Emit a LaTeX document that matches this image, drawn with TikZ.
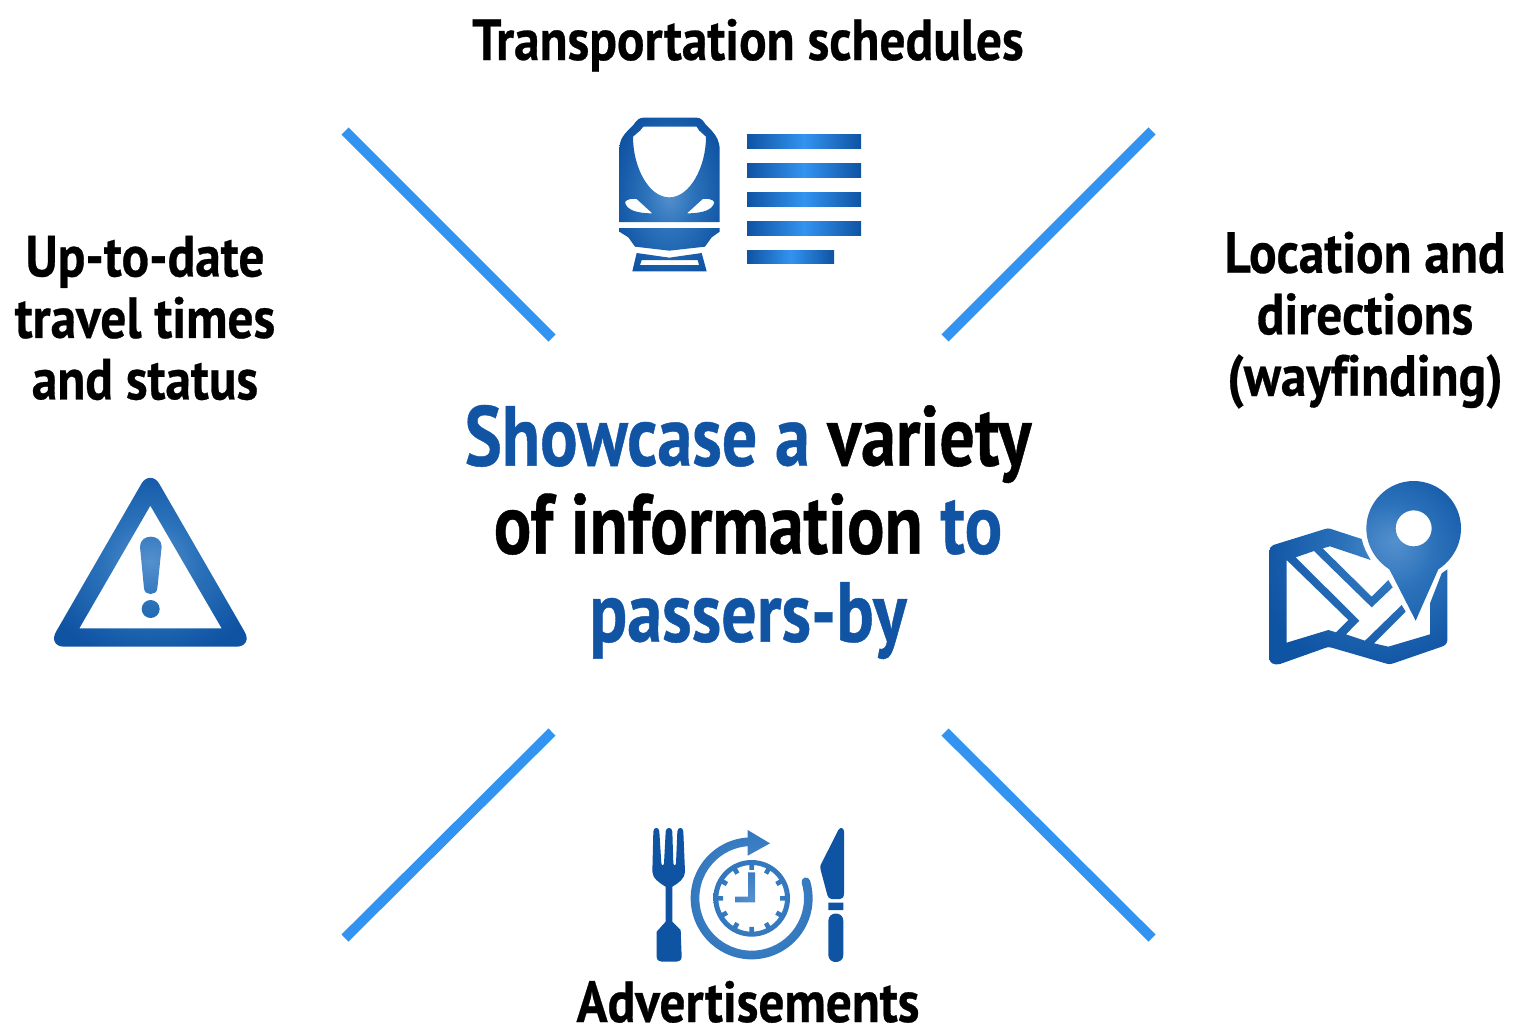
\documentclass[tikz,border=0pt]{standalone}
\usepackage{fontspec}
\setmainfont{PT Sans}
\newfontfamily\capfont[FakeStretch=0.885,FakeBold=0.5,Ligatures=NoCommon]{PT Sans}
\newfontfamily\mainfont[FakeStretch=0.825,FakeBold=0.5]{PT Sans}
\definecolor{icondark}{HTML}{0F53A3}
\definecolor{iconmid}{HTML}{2B72BA}
\definecolor{iconlight}{HTML}{5590CE}
\definecolor{linecol}{HTML}{3393F0}
\definecolor{textblue}{HTML}{1254A4}
\pgfdeclareradialshading{iconglow}{\pgfpointorigin}{color(0bp)=(iconlight); color(12bp)=(iconmid); color(29bp)=(icondark); color(50bp)=(icondark)}
\pgfdeclareradialshading{mapglow}{\pgfpoint{8bp}{9bp}}{color(0bp)=(iconlight); color(12bp)=(iconmid); color(31bp)=(icondark); color(50bp)=(icondark)}
\pgfdeclareradialshading{clockglow}{\pgfpointorigin}{color(0bp)=(iconlight); color(30bp)=(iconmid); color(50bp)=(iconmid)}
\tikzset{
  rayline/.style={draw=linecol,line width=10pt},
  iconshade/.style={shading=iconglow,even odd rule},
  barshade/.style={left color=icondark,right color=icondark,middle color=linecol},
  captext/.style={font=\capfont\fontsize{58}{61.5}\selectfont\bfseries,align=center,text=black,inner sep=0pt},
  maintext/.style={font=\mainfont\fontsize{85}{88}\selectfont\bfseries,align=center,text=black,inner sep=0pt},
  px/.style={shift={(#1)},scale=1/3}
}
\begin{document}
\begin{tikzpicture}[x=1pt,y=-1pt]
\useasboundingbox (0,0) rectangle (1514,1029);
% rays
\coordinate (a1) at (345,131); \coordinate (a2) at (552,338);
\coordinate (b1) at (1152,131); \coordinate (b2) at (945,338);
\coordinate (c1) at (552,732); \coordinate (c2) at (345,938);
\coordinate (d1) at (945,732); \coordinate (d2) at (1152,938);
\draw[rayline] (a1) -- (a2);
\draw[rayline] (b1) -- (b2);
\draw[rayline] (c1) -- (c2);
\draw[rayline] (d1) -- (d2);
% texts
\node[captext,anchor=base] (top) at (748,60) {Transportation schedules};
\node[captext,anchor=base] (bot) at (748,1022) {Advertisements};
\node[captext] (left) at (145,318) {Up-to-date\\travel times\\and status};
\node[captext] (right) at (1365,320) {Location and\\directions\\(wayfinding)};
\node[maintext] (main) at (748,532) {\textcolor{textblue}{Showcase a} variety\\of information \textcolor{textblue}{to}\\\textcolor{textblue}{passers-by}};
% train
\begin{scope}[px={600,100}]
\shade[iconshade]
 (58,366) -- (58,150) .. controls (58,120) and (70,105) .. (85,90) -- (100,75) .. controls (110,60) and (118,53) .. (130,53) -- (290,53) .. controls (302,53) and (310,62) .. (318,75) -- (335,92) .. controls (350,108) and (359,125) .. (359,150) -- (359,366) -- cycle
 (99,110) -- (120,92) -- (130,80) -- (290,80) -- (298,92) -- (318,110) .. controls (318,200) and (270,292) .. (208,292) .. controls (145,292) and (99,200) .. (99,110) -- cycle
 (75,307) .. controls (78,298) and (95,295) .. (110,297) -- (157,340) .. controls (110,340) and (80,330) .. (75,307) -- cycle
 (343,307) .. controls (340,298) and (323,295) .. (308,297) -- (261,340) .. controls (308,340) and (338,330) .. (343,307) -- cycle
 (58,384) -- (359,384) -- (359,395) -- (335,412) -- (315,440) -- (208,452) -- (105,440) -- (85,412) -- (58,395) -- cycle
 (110,459) -- (208,473) -- (305,459) -- (320,514) -- (97,514) -- cycle
 (125,480) -- (293,480) -- (297,495) -- (120,495) -- cycle;
\shade[barshade] (441,102) rectangle (783,144);
\shade[barshade] (441,189) rectangle (783,231);
\shade[barshade] (441,276) rectangle (783,318);
\shade[barshade] (441,363) rectangle (783,405);
\shade[barshade] (441,450) rectangle (702,489);
\end{scope}
% warning triangle
\begin{scope}[px={40,465}]
\shade[iconshade]
 (305,55) .. controls (318,33) and (344,33) .. (357,55) -- (612,497) .. controls (630,525) and (615,545) .. (590,545) -- (72,545) .. controls (47,545) and (32,525) .. (50,497) -- cycle
 (331,122) -- (545,490) -- (118,490) -- cycle
 (300,245) .. controls (300,205) and (365,205) .. (365,245) -- (352,370) .. controls (350,393) and (314,393) .. (312,370) -- cycle
 (332,432) circle[radius=27];
\end{scope}
% map with pin
\begin{scope}[px={1250,470}]
\shade[shading=mapglow,even odd rule]
 (58,245) .. controls (58,235) and (62,228) .. (70,225) -- (225,177) .. controls (231,175) and (236,175) .. (240,176) -- (335,207) .. controls (340,230) and (350,250) .. (362,270) -- (240,229) -- (218,235) -- (365,380) -- (415,330) -- (428,352) -- (365,412) -- (192,243) -- (137,262) -- (328,452) -- (288,493) -- (345,512) -- (455,405) -- (467,425) -- (372,520) -- (415,530) -- (540,493) -- (540,400) -- (575,310) -- (592,298) -- (592,510) .. controls (592,520) and (585,527) .. (575,530) -- (430,580) .. controls (422,583) and (416,583) .. (410,581) -- (245,533) .. controls (238,531) and (234,531) .. (228,533) -- (90,582) .. controls (72,587) and (58,578) .. (58,565) -- cycle
 (110,270) -- (295,450) -- (258,487) -- (235,480) -- (110,518) -- cycle
 (497,452) -- (418,298) .. controls (375,270) and (349,225) .. (349,175) .. controls (349,97) and (413,33) .. (491,33) .. controls (569,33) and (633,97) .. (633,175) .. controls (633,225) and (607,270) .. (565,298) -- cycle
 (491,175) circle[radius=54];
\end{scope}
% cutlery and clock
\begin{scope}[px={640,815}]
\fill[icondark]
 (40,50) .. controls (40,35) and (58,35) .. (58,50) -- (64,145) .. controls (66,153) and (70,153) .. (72,145) -- (77,50) .. controls (77,35) and (97,35) .. (97,50) -- (100,145) .. controls (102,153) and (106,153) .. (108,145) -- (112,50) .. controls (112,35) and (130,35) .. (130,50) -- (135,170) .. controls (135,190) and (115,205) .. (97,215) -- (97,320) -- (122,345) -- (125,425) .. controls (125,435) and (118,440) .. (110,440) -- (65,440) .. controls (57,440) and (50,435) .. (50,425) -- (50,350) -- (77,320) -- (77,215) .. controls (60,205) and (37,190) .. (37,170) -- cycle;
\fill[icondark]
 (612,50) -- (612,235) .. controls (612,246) and (607,252) .. (600,252) -- (575,252) .. controls (568,252) and (564,247) .. (562,240) -- (542,165) .. controls (540,158) and (541,153) .. (542,150) -- (595,45) .. controls (600,35) and (612,38) .. (612,50) -- cycle
 (565,263) rectangle (610,285)
 (565,318) .. controls (565,288) and (610,288) .. (610,318) -- (610,420) .. controls (610,448) and (565,448) .. (565,420) -- cycle;
\shade[shading=clockglow]
 ([shift={(335,250)}]267:183) arc[start angle=267,end angle=-17,radius=183]
 arc[start angle=-17,end angle=-197,radius=13]
 arc[start angle=-17,end angle=267,radius=157]
 -- (323,95) -- (323,122) -- (390,85) -- (323,45) -- (323,70) -- cycle;
\shade[shading=clockglow,even odd rule] (335,250) circle[radius=115] (335,250) circle[radius=100];
\shade[shading=clockglow]
 (324,172) -- (345,172) -- (345,262) -- (285,262) -- (285,245) -- (324,245) -- cycle
 \foreach \ang in {0,30,...,330} {
   ([shift={(335,250)}]\ang-4:102) -- ([shift={(335,250)}]\ang+4:102) -- ([shift={(335,250)}]\ang+4.6:86) -- ([shift={(335,250)}]\ang-4.6:86) -- cycle
 };
\end{scope}
\end{tikzpicture}
\end{document}
